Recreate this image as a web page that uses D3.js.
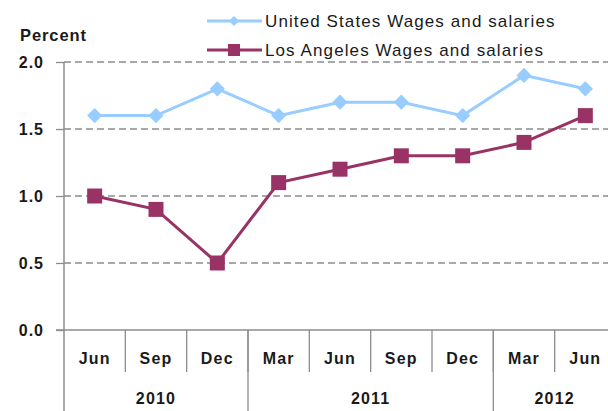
<!DOCTYPE html>
<html>
<head>
<meta charset="utf-8">
<script src="https://cdn.jsdelivr.net/npm/d3@7"></script>
<style>
  body { margin: 0; background: #fff; }
  svg { display: block; font-family: "Liberation Sans", Arial, sans-serif; }
</style>
</head>
<body>
<div id="plot"></div>
<script>
// quarter labels along the bottom
const months = ['Jun', 'Sep', 'Dec', 'Mar', 'Jun', 'Sep', 'Dec', 'Mar', 'Jun'];
// year groups: label and how many quarters it spans
const years = [
    { label: '2010', n: 3 },
    { label: '2011', n: 4 },
    { label: '2012', n: 2 }
];
const usValues = [1.6, 1.6, 1.8, 1.6, 1.7, 1.7, 1.6, 1.9, 1.8];
const laValues = [1.0, 0.9, 0.5, 1.1, 1.2, 1.3, 1.3, 1.4, 1.6];
const yTicks = [0, 0.5, 1.0, 1.5, 2.0];
const seriesNames = ['United States Wages and salaries', 'Los Angeles Wages and salaries'];

const width = 608, height = 411;
const usColor = '#99ccff', laColor = '#993366';
const axisGrey = '#8c8c8c', textColor = '#1a1a1a';

const svg = d3.select('#plot').append('svg')
    .attr('width', width)
    .attr('height', height);

// index-based band scale, the plot runs past the right edge of the picture
let x = d3.scaleBand()
    .domain(d3.range(months.length))
    .range([64, 616]);

let y = d3.scaleLinear()
    .domain([0, 2])
    .range([330, 62]);

// dashed gridlines
svg.append('g')
    .selectAll('line')
    .data(yTicks.filter(d => d > 0))
    .enter()
    .append('line')
    .attr('x1', 64)
    .attr('x2', width)
    .attr('y1', d => y(d))
    .attr('y2', d => y(d))
    .attr('stroke', axisGrey)
    .attr('stroke-width', 1.3)
    .attr('stroke-dasharray', '7,4');

// y axis
let y_axis = d3.axisLeft(y)
    .tickValues(yTicks)
    .tickFormat(d3.format('.1f'))
    .tickSize(8)
    .tickPadding(12);
let gy = svg.append('g')
    .attr('transform', 'translate(64,0)')
    .call(y_axis);
gy.select('.domain').remove();
gy.selectAll('line').attr('stroke', axisGrey).attr('stroke-width', 1.3);
gy.selectAll('text')
    .attr('font-size', 16)
    .attr('font-weight', 'bold')
    .attr('letter-spacing', 1)
    .attr('fill', textColor);

// axis lines
svg.append('line')
    .attr('x1', 64).attr('x2', 64)
    .attr('y1', 62).attr('y2', height)
    .attr('stroke', axisGrey).attr('stroke-width', 1.5);
svg.append('line')
    .attr('x1', 56).attr('x2', width)
    .attr('y1', 330).attr('y2', 330)
    .attr('stroke', axisGrey).attr('stroke-width', 1.5);

svg.append('text')
    .attr('x', 20)
    .attr('y', 41)
    .attr('font-size', 16.5)
    .attr('letter-spacing', 0.9)
    .attr('font-weight', 'bold')
    .attr('fill', textColor)
    .text('Percent');

// month separators and labels
svg.append('g')
    .selectAll('line')
    .data(d3.range(1, months.length))
    .enter()
    .append('line')
    .attr('x1', d => x(d))
    .attr('x2', d => x(d))
    .attr('y1', 330)
    .attr('y2', 372)
    .attr('stroke', axisGrey)
    .attr('stroke-width', 1.3);

svg.append('g')
    .selectAll('text')
    .data(months)
    .enter()
    .append('text')
    .attr('x', (d, i) => x(i) + x.bandwidth() / 2)
    .attr('y', 364)
    .attr('text-anchor', 'middle')
    .attr('font-size', 16)
    .attr('letter-spacing', 1.2)
    .attr('font-weight', 'bold')
    .attr('fill', textColor)
    .text(d => d);

// year separators and labels
let start = 0;
years.forEach(function (yr) {
    let x0 = x(start);
    let x1 = start + yr.n < months.length ? x(start + yr.n) : x.range()[1];
    if (start > 0) {
        svg.append('line')
            .attr('x1', x0).attr('x2', x0)
            .attr('y1', 330).attr('y2', height)
            .attr('stroke', axisGrey)
            .attr('stroke-width', 1.3);
    }
    svg.append('text')
        .attr('x', (x0 + x1) / 2)
        .attr('y', 404)
        .attr('text-anchor', 'middle')
        .attr('font-size', 16)
        .attr('letter-spacing', 1.2)
        .attr('font-weight', 'bold')
        .attr('fill', textColor)
        .text(yr.label);
    start += yr.n;
});

let cx = (d, i) => x(i) + x.bandwidth() / 2;

let line = d3.line()
    .x(cx)
    .y(d => y(d));

// US series
svg.append('path')
    .datum(usValues)
    .attr('d', line)
    .attr('fill', 'none')
    .attr('stroke', usColor)
    .attr('stroke-width', 3);
svg.append('g')
    .selectAll('path')
    .data(usValues)
    .enter()
    .append('path')
    .attr('d', d3.symbol(d3.symbolSquare, 115))
    .attr('transform', (d, i) => `translate(${cx(d, i)},${y(d)}) rotate(45)`)
    .attr('fill', usColor);

// LA series
svg.append('path')
    .datum(laValues)
    .attr('d', line)
    .attr('fill', 'none')
    .attr('stroke', laColor)
    .attr('stroke-width', 3);
svg.append('g')
    .selectAll('rect')
    .data(laValues)
    .enter()
    .append('rect')
    .attr('x', (d, i) => cx(d, i) - 7.5)
    .attr('y', d => y(d) - 7.5)
    .attr('width', 15)
    .attr('height', 15)
    .attr('fill', laColor);

// legend
let legend = svg.append('g');
[usColor, laColor].forEach(function (c, i) {
    let ly = 21 + i * 29;
    legend.append('line')
        .attr('x1', 207).attr('x2', 262)
        .attr('y1', ly).attr('y2', ly)
        .attr('stroke', c).attr('stroke-width', 3);
    if (i == 0) {
        legend.append('path')
            .attr('d', d3.symbol(d3.symbolSquare, 50))
            .attr('transform', `translate(234,${ly}) rotate(45)`)
            .attr('fill', c);
    } else {
        legend.append('rect')
            .attr('x', 228).attr('y', ly - 6)
            .attr('width', 12).attr('height', 12)
            .attr('fill', c);
    }
    legend.append('text')
        .attr('x', 265)
        .attr('y', ly + 6)
        .attr('font-size', 17)
        .attr('letter-spacing', 1.1)
        .attr('fill', textColor)
        .text(seriesNames[i]);
});
</script>
</body>
</html>
